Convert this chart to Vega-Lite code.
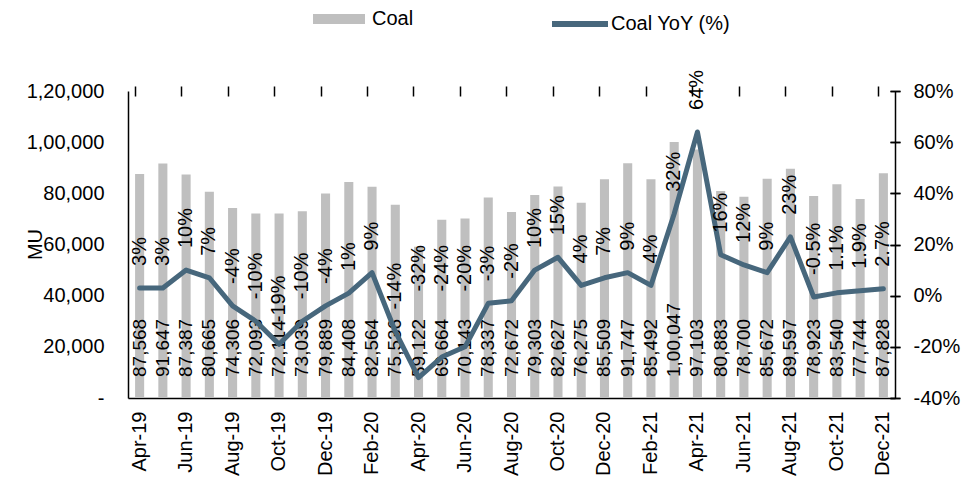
{
  "$schema": "https://vega.github.io/schema/vega-lite/v6.json",
  "width": 767,
  "height": 307,
  "autosize": {"type": "none"},
  "padding": {"left": 128, "top": 91, "right": 71, "bottom": 83},
  "config": {
    "font": "Liberation Sans",
    "view": {"stroke": null},
    "axis": {
      "labelFont": "Liberation Sans",
      "labelFontSize": 20,
      "labelColor": "#000000",
      "domainColor": "#000000",
      "tickColor": "#000000",
      "domainWidth": 1.5,
      "tickWidth": 1.5,
      "grid": false,
      "titleFont": "Liberation Sans",
      "titleColor": "#000000"
    },
    "legend": {
      "labelFont": "Liberation Sans",
      "labelFontSize": 20,
      "labelColor": "#000000",
      "labelLimit": 0,
      "padding": 0
    }
  },
  "data": {
    "values": [
      {"Month": "Apr-19", "Coal": 87568, "CoalLabel": "87,568", "YoY": 3, "YoYLabel": "3%"},
      {"Month": "May-19", "Coal": 91647, "CoalLabel": "91,647", "YoY": 3, "YoYLabel": "3%"},
      {"Month": "Jun-19", "Coal": 87387, "CoalLabel": "87,387", "YoY": 10, "YoYLabel": "10%"},
      {"Month": "Jul-19", "Coal": 80665, "CoalLabel": "80,665", "YoY": 7, "YoYLabel": "7%"},
      {"Month": "Aug-19", "Coal": 74306, "CoalLabel": "74,306", "YoY": -4, "YoYLabel": "-4%"},
      {"Month": "Sep-19", "Coal": 72093, "CoalLabel": "72,093", "YoY": -10, "YoYLabel": "-10%"},
      {"Month": "Oct-19", "Coal": 72114, "CoalLabel": "72,114", "YoY": -19, "YoYLabel": "-19%"},
      {"Month": "Nov-19", "Coal": 73039, "CoalLabel": "73,039", "YoY": -10, "YoYLabel": "-10%"},
      {"Month": "Dec-19", "Coal": 79889, "CoalLabel": "79,889", "YoY": -4, "YoYLabel": "-4%"},
      {"Month": "Jan-20", "Coal": 84408, "CoalLabel": "84,408", "YoY": 1, "YoYLabel": "1%"},
      {"Month": "Feb-20", "Coal": 82564, "CoalLabel": "82,564", "YoY": 9, "YoYLabel": "9%"},
      {"Month": "Mar-20", "Coal": 75536, "CoalLabel": "75,536", "YoY": -14, "YoYLabel": "-14%"},
      {"Month": "Apr-20", "Coal": 59122, "CoalLabel": "59,122", "YoY": -32, "YoYLabel": "-32%"},
      {"Month": "May-20", "Coal": 69664, "CoalLabel": "69,664", "YoY": -24, "YoYLabel": "-24%"},
      {"Month": "Jun-20", "Coal": 70143, "CoalLabel": "70,143", "YoY": -20, "YoYLabel": "-20%"},
      {"Month": "Jul-20", "Coal": 78337, "CoalLabel": "78,337", "YoY": -3, "YoYLabel": "-3%"},
      {"Month": "Aug-20", "Coal": 72672, "CoalLabel": "72,672", "YoY": -2, "YoYLabel": "-2%"},
      {"Month": "Sep-20", "Coal": 79303, "CoalLabel": "79,303", "YoY": 10, "YoYLabel": "10%"},
      {"Month": "Oct-20", "Coal": 82627, "CoalLabel": "82,627", "YoY": 15, "YoYLabel": "15%"},
      {"Month": "Nov-20", "Coal": 76275, "CoalLabel": "76,275", "YoY": 4, "YoYLabel": "4%"},
      {"Month": "Dec-20", "Coal": 85509, "CoalLabel": "85,509", "YoY": 7, "YoYLabel": "7%"},
      {"Month": "Jan-21", "Coal": 91747, "CoalLabel": "91,747", "YoY": 9, "YoYLabel": "9%"},
      {"Month": "Feb-21", "Coal": 85492, "CoalLabel": "85,492", "YoY": 4, "YoYLabel": "4%"},
      {"Month": "Mar-21", "Coal": 100047, "CoalLabel": "1,00,047", "YoY": 32, "YoYLabel": "32%"},
      {"Month": "Apr-21", "Coal": 97103, "CoalLabel": "97,103", "YoY": 64, "YoYLabel": "64%"},
      {"Month": "May-21", "Coal": 80883, "CoalLabel": "80,883", "YoY": 16, "YoYLabel": "16%"},
      {"Month": "Jun-21", "Coal": 78700, "CoalLabel": "78,700", "YoY": 12, "YoYLabel": "12%"},
      {"Month": "Jul-21", "Coal": 85672, "CoalLabel": "85,672", "YoY": 9, "YoYLabel": "9%"},
      {"Month": "Aug-21", "Coal": 89597, "CoalLabel": "89,597", "YoY": 23, "YoYLabel": "23%"},
      {"Month": "Sep-21", "Coal": 78923, "CoalLabel": "78,923", "YoY": -0.5, "YoYLabel": "-0.5%"},
      {"Month": "Oct-21", "Coal": 83540, "CoalLabel": "83,540", "YoY": 1.1, "YoYLabel": "1.1%"},
      {"Month": "Nov-21", "Coal": 77744, "CoalLabel": "77,744", "YoY": 1.9, "YoYLabel": "1.9%"},
      {"Month": "Dec-21", "Coal": 87828, "CoalLabel": "87,828", "YoY": 2.7, "YoYLabel": "2.7%"}
    ]
  },
  "layer": [
    {
      "encoding": {
        "x": {
          "field": "Month",
          "type": "nominal",
          "sort": null,
          "scale": {"paddingInner": 0.61, "paddingOuter": 0.305},
          "axis": {
            "title": null,
            "values": ["Apr-19", "Jun-19", "Aug-19", "Oct-19", "Dec-19", "Feb-20", "Apr-20", "Jun-20", "Aug-20", "Oct-20", "Dec-20", "Feb-21", "Apr-21", "Jun-21", "Aug-21", "Oct-21", "Dec-21"],
            "labelAngle": -90,
            "ticks": false,
            "tickSize": 0,
            "labelPadding": 13,
            "domain": true
          }
        }
      },
      "layer": [
        {
          "mark": {"type": "bar"},
          "encoding": {
            "y": {
              "field": "Coal",
              "type": "quantitative",
              "scale": {"domain": [0, 120000], "nice": false},
              "axis": {
                "title": "MU",
                "titleX": -93,
                "titleY": 153,
                "titleAngle": -90,
                "titleAlign": "center",
                "titleBaseline": "middle",
                "titleFontSize": 20,
                "titleFontWeight": "normal",
                "values": [0, 20000, 40000, 60000, 80000, 100000, 120000],
                "labelExpr": "datum.value == 0 ? '-\u00a0\u00a0' : datum.value >= 100000 ? (floor(datum.value / 100000) + ',' + format((datum.value % 100000) / 1000, '02d') + ',000') : format(datum.value, ',')",
                "ticks": false,
                "tickSize": 0,
                "labelPadding": 24
              }
            },
            "fill": {
              "datum": "Coal",
              "type": "nominal",
              "scale": {"range": ["#bfbfbf"]},
              "legend": {
                "orient": "none",
                "legendX": 185,
                "legendY": -98,
                "title": null,
                "symbolType": "M-1,-0.19H1V0.19H-1Z",
                "symbolSize": 2704,
                "symbolStrokeWidth": 0,
                "labelOffset": 7
              }
            }
          }
        },
        {
          "mark": {"type": "text", "angle": -90, "align": "left", "baseline": "middle", "dx": 21, "fontSize": 19, "font": "Liberation Sans", "color": "#000000"},
          "encoding": {
            "y": {
              "datum": 0,
              "type": "quantitative",
              "axis": {
                "title": null,
                "labels": false,
                "domain": false,
                "values": [0, 20000, 40000, 60000, 80000, 100000, 120000],
                "tickSize": 10,
                "offset": -5
              }
            },
            "text": {"field": "CoalLabel"}
          }
        }
      ],
      "resolve": {"axis": {"y": "independent"}}
    },
    {
      "encoding": {
        "x": {
          "field": "Month",
          "type": "nominal",
          "sort": null,
          "axis": {
            "title": null,
            "values": ["Apr-19", "Jun-19", "Aug-19", "Oct-19", "Dec-19", "Feb-20", "Apr-20", "Jun-20", "Aug-20", "Oct-20", "Dec-20", "Feb-21", "Apr-21", "Jun-21", "Aug-21", "Oct-21", "Dec-21"],
            "labels": false,
            "domain": false,
            "tickSize": 10,
            "offset": -5,
            "bandPosition": 0
          }
        }
      },
      "layer": [
        {
          "mark": {"type": "line", "strokeWidth": 5, "strokeJoin": "round", "strokeCap": "round"},
          "encoding": {
            "y": {
              "field": "YoY",
              "type": "quantitative",
              "scale": {"domain": [-40, 80], "nice": false},
              "axis": {
                "orient": "right",
                "title": null,
                "values": [-40, -20, 0, 20, 40, 60, 80],
                "labelExpr": "datum.value + '%'",
                "ticks": false,
                "tickSize": 0,
                "labelPadding": 18
              }
            },
            "stroke": {
              "datum": "Coal YoY (%)",
              "type": "nominal",
              "scale": {"range": ["#47677c"]},
              "legend": {
                "orient": "none",
                "legendX": 421,
                "legendY": -98,
                "title": null,
                "symbolType": "stroke",
                "symbolSize": 3136,
                "symbolStrokeWidth": 6,
                "labelOffset": 0
              }
            }
          }
        },
        {
          "transform": [
            {"calculate": "datum.YoY < -19.5 ? -7 : datum.YoY", "as": "LabelAt"}
          ],
          "mark": {"type": "text", "angle": -90, "align": "left", "baseline": "middle", "dx": 22, "fontSize": 20, "font": "Liberation Sans", "color": "#000000"},
          "encoding": {
            "y": {
              "field": "LabelAt",
              "type": "quantitative",
              "axis": {
                "orient": "right",
                "title": null,
                "labels": false,
                "domain": false,
                "values": [-40, -20, 0, 20, 40, 60, 80],
                "tickSize": 10,
                "offset": -5
              }
            },
            "text": {"field": "YoYLabel"}
          }
        }
      ],
      "resolve": {"axis": {"y": "independent"}}
    }
  ],
  "resolve": {"scale": {"y": "independent"}, "axis": {"x": "independent"}}
}
